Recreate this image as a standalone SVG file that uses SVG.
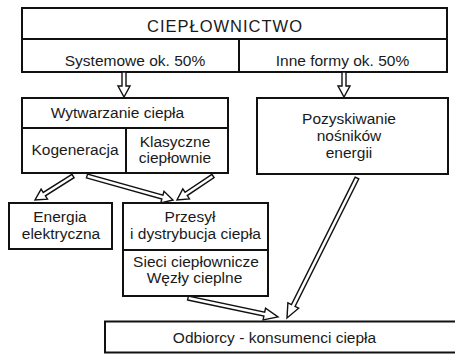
<svg xmlns="http://www.w3.org/2000/svg" width="455" height="354" viewBox="0 0 455 354">
<style>
.b{fill:#fff;stroke:#111;stroke-width:2}
.l{stroke:#111;stroke-width:2;fill:none}
.t{font-family:"Liberation Sans",Arial,sans-serif;font-size:15.5px;fill:#1a1a1a;text-anchor:middle}
.a{fill:#fff;stroke:#111;stroke-width:1.4;stroke-linejoin:miter}
</style>
<rect width="455" height="354" fill="#fff"/>
<g id="cieplownictwo">
<rect class="b" x="22" y="8" width="425" height="64"/>
<line class="l" x1="22" y1="39" x2="447" y2="39"/>
<line class="l" x1="239" y1="39" x2="239" y2="72"/>
<text class="t" x="224.5" y="31.5" style="font-size:16.5px" textLength="155" lengthAdjust="spacing">CIEPŁOWNICTWO</text>
<text class="t" x="135" y="66">Systemowe ok. 50%</text>
<text class="t" x="342.5" y="66">Inne formy ok. 50%</text>
</g>
<g id="wytwarzanie">
<rect class="b" x="22" y="98" width="206" height="75"/>
<line class="l" x1="22" y1="128" x2="228" y2="128"/>
<line class="l" x1="126" y1="128" x2="126" y2="173"/>
<text class="t" x="117.5" y="118">Wytwarzanie ciepła</text>
<text class="t" x="75" y="155">Kogeneracja</text>
<text class="t" x="175" y="146.5">Klasyczne</text>
<text class="t" x="175" y="163">ciepłownie</text>
</g>
<g id="pozyskiwanie">
<rect class="b" x="257" y="98" width="191" height="76"/>
<text class="t" x="349" y="124">Pozyskiwanie</text>
<text class="t" x="349" y="141">nośników</text>
<text class="t" x="349" y="158">energii</text>
</g>
<g id="energia">
<rect class="b" x="9" y="203" width="103" height="46"/>
<text class="t" x="60" y="222">Energia</text>
<text class="t" x="61" y="239">elektryczna</text>
</g>
<g id="przesyl">
<rect class="b" x="123" y="203" width="145" height="93"/>
<line class="l" x1="123" y1="250" x2="268" y2="250"/>
<text class="t" x="190" y="222">Przesył</text>
<text class="t" x="195.5" y="239">i dystrybucja ciepła</text>
<text class="t" x="196" y="267">Sieci ciepłownicze</text>
<text class="t" x="194.5" y="283">Węzły cieplne</text>
</g>
<g id="odbiorcy">
<rect class="b" x="105" y="321.5" width="360" height="31"/>
<text class="t" x="274.5" y="343">Odbiorcy - konsumenci ciepła</text>
</g>
<g id="connectors">
<polygon class="a" points="122,72 122,86 118,86 124,97 130,86 126,86 126,72"/>
<polygon class="a" points="342,72 342,86 338,86 344,97 350,86 346,86 346,72"/>
<polygon class="a" points="71.93,174.31 43.23,192.44 41.10,189.06 35,200 47.50,199.20 45.37,195.82 74.07,177.69"/>
<polygon class="a" points="86.46,177.93 161.86,198.97 160.79,202.82 173,200 164.01,191.26 162.94,195.11 87.54,174.07"/>
<polygon class="a" points="211.89,174.34 185.04,192.24 182.82,188.91 177,200 189.48,198.89 187.26,195.56 214.11,177.66"/>
<polygon class="a" points="187.59,299.96 263.89,316.07 263.06,319.98 278,317 265.54,308.24 264.71,312.15 188.41,296.04"/>
<polygon class="a" points="355.21,177.11 291.47,304.59 287.89,302.80 287,318 298.63,308.16 295.05,306.37 358.79,178.89"/>
</g>
</svg>
